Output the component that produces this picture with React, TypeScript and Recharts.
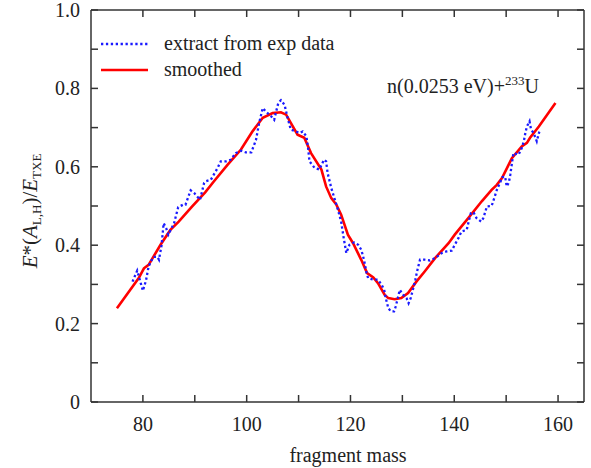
import { LineChart, Line, XAxis, YAxis } from "recharts";

// dotted curve: extracted from experimental data
const expMass = [
  78.0, 78.9, 80.0, 80.6, 81.1, 82.0, 82.8, 83.1, 83.6, 84.0, 84.5, 84.9, 86.0, 86.8, 87.7, 88.2,
  89.2, 89.9, 91.0, 91.8, 92.1, 93.1, 94.4, 95.0, 96.0, 96.9, 97.9, 98.9, 99.8, 100.9, 101.8,
  102.4, 103.1, 103.7, 104.7, 105.3, 105.6, 106.1, 106.6, 107.3, 107.9, 108.5, 109.5, 110.2,
  110.8, 111.5, 111.8, 112.1, 113.1, 114.0, 114.9, 115.3, 115.6, 116.3, 116.9, 117.6, 118.2,
  118.7, 119.2, 119.8, 120.7, 121.5, 122.1, 122.6, 123.1, 123.4, 124.4, 125.3, 126.0, 126.5,
  126.8, 127.3, 127.8, 128.4, 128.7, 129.2, 129.5, 130.2, 130.8, 131.2, 131.6, 132.1, 132.5,
  132.9, 133.4, 134.3, 135.3, 136.3, 137.6, 138.5, 139.5, 140.1, 140.8, 141.4, 142.4, 142.7,
  143.2, 143.7, 144.3, 145.2, 145.6, 146.3, 147.2, 147.8, 148.2, 148.8, 149.3, 149.8, 150.1,
  150.5, 150.8, 151.1, 151.4, 152.4, 153.0, 153.4, 153.7, 154.0, 154.5, 154.8, 155.3, 155.9,
  156.4,
];
const expValue = [
  0.307, 0.335, 0.284, 0.31, 0.346, 0.37, 0.37, 0.363, 0.4, 0.456, 0.443, 0.427, 0.456, 0.497,
  0.503, 0.503, 0.54, 0.533, 0.516, 0.559, 0.563, 0.567, 0.597, 0.614, 0.614, 0.618, 0.635,
  0.641, 0.637, 0.637, 0.669, 0.712, 0.75, 0.741, 0.729, 0.72, 0.737, 0.763, 0.77, 0.758, 0.724,
  0.695, 0.69, 0.686, 0.69, 0.678, 0.652, 0.614, 0.597, 0.593, 0.618, 0.614, 0.584, 0.546, 0.52,
  0.49, 0.46, 0.418, 0.38, 0.401, 0.407, 0.401, 0.388, 0.363, 0.329, 0.316, 0.312, 0.312, 0.299,
  0.286, 0.265, 0.239, 0.231, 0.231, 0.243, 0.269, 0.286, 0.273, 0.265, 0.252, 0.265, 0.29,
  0.312, 0.337, 0.363, 0.363, 0.361, 0.367, 0.38, 0.384, 0.386, 0.401, 0.418, 0.435, 0.439,
  0.456, 0.482, 0.484, 0.469, 0.46, 0.469, 0.499, 0.5, 0.524, 0.541, 0.559, 0.574, 0.575, 0.55,
  0.559, 0.58, 0.608, 0.635, 0.631, 0.648, 0.665, 0.686, 0.703, 0.716, 0.695, 0.686, 0.665,
  0.69,
];

// solid red curve: smoothed
const smoothMass = [
  75.0, 79.2, 80.2, 81.1, 83.4, 85.3, 86.9, 89.5, 92.0, 93.7, 96.3, 98.9, 101.1, 103.1, 105.0,
  106.6, 107.6, 108.5, 109.8, 111.1, 112.4, 114.4, 115.3, 116.3, 117.3, 118.2, 119.5, 120.5,
  122.1, 123.2, 124.4, 125.3, 126.6, 127.3, 128.5, 129.8, 131.1, 132.7, 134.3, 136.3, 138.9,
  140.1, 142.7, 145.3, 147.2, 148.2, 149.2, 151.1, 153.0, 154.0, 154.6, 156.3, 159.5,
];
const smoothValue = [
  0.239, 0.316, 0.341, 0.35, 0.401, 0.439, 0.46, 0.499, 0.535, 0.563, 0.605, 0.644, 0.69, 0.725,
  0.737, 0.739, 0.733, 0.712, 0.682, 0.674, 0.635, 0.593, 0.55, 0.52, 0.503, 0.478, 0.427, 0.405,
  0.362, 0.329, 0.318, 0.303, 0.273, 0.265, 0.262, 0.265, 0.278, 0.307, 0.333, 0.367, 0.405,
  0.427, 0.469, 0.512, 0.541, 0.554, 0.571, 0.622, 0.652, 0.661, 0.674, 0.703, 0.763,
];

const xTicks = [80, 90, 100, 110, 120, 130, 140, 150, 160];
const xLabels = ["80", "", "100", "", "120", "", "140", "", "160"];
const yTicks = [0, 0.1, 0.2, 0.3, 0.4, 0.5, 0.6, 0.7, 0.8, 0.9, 1.0];
const yLabels = ["0", "", "0.2", "", "0.4", "", "0.6", "", "0.8", "", "1.0"];

const expData = expMass.map((m, i) => ({ m, v: expValue[i] }));
const smoothData = smoothMass.map((m, i) => ({ m, v: smoothValue[i] }));

const serif = { fontFamily: "'Liberation Serif', 'DejaVu Serif', serif" };
const AXIS = "#333";
const TXT = "#222";
const TICK = 7;

function BottomTick({ x, y, payload }: any) {
  const label = xLabels[xTicks.indexOf(payload.value)];
  return (
    <g>
      <line x1={x} y1={y} x2={x} y2={y - TICK} stroke={AXIS} strokeWidth={1.5} />
      {label && (
        <text x={x} y={y + 29} textAnchor="middle" fontSize={20} style={serif} fill={TXT}>
          {label}
        </text>
      )}
    </g>
  );
}

function TopTick({ x, y }: any) {
  return <line x1={x} y1={y} x2={x} y2={y + TICK} stroke={AXIS} strokeWidth={1.5} />;
}

function LeftTick({ x, y, payload }: any) {
  const idx = yTicks.findIndex((t) => Math.abs(t - payload.value) < 1e-6);
  const label = yLabels[idx];
  return (
    <g>
      <line x1={x} y1={y} x2={x + TICK} y2={y} stroke={AXIS} strokeWidth={1.5} />
      {label && (
        <text x={x - 11} y={y + 7} textAnchor="end" fontSize={20} style={serif} fill={TXT}>
          {label}
        </text>
      )}
    </g>
  );
}

function RightTick({ x, y }: any) {
  return <line x1={x} y1={y} x2={x - TICK} y2={y} stroke={AXIS} strokeWidth={1.5} />;
}

export default function App() {
  return (
    <div style={{ position: "absolute", left: 0, top: 0, width: 591, height: 468, background: "#fff" }}>
      <LineChart width={591} height={468} margin={{ top: 5, right: 2, bottom: 36, left: 31 }}>
        <XAxis
          dataKey="m"
          type="number"
          domain={[70, 165]}
          ticks={xTicks}
          interval={0}
          height={30}
          tickSize={0}
          tickMargin={0}
          tick={<BottomTick />}
          stroke={AXIS}
          strokeWidth={1.5}
          allowDataOverflow
        />
        <XAxis
          xAxisId="top"
          orientation="top"
          dataKey="m"
          type="number"
          domain={[70, 165]}
          ticks={xTicks}
          interval={0}
          height={5}
          tickSize={0}
          tickMargin={0}
          tick={<TopTick />}
          stroke={AXIS}
          strokeWidth={1.5}
          allowDataOverflow
        />
        <YAxis
          type="number"
          domain={[0, 1]}
          ticks={yTicks}
          interval={0}
          width={60}
          tickSize={0}
          tickMargin={0}
          tick={<LeftTick />}
          stroke={AXIS}
          strokeWidth={1.5}
          allowDataOverflow
        />
        <YAxis
          yAxisId="right"
          orientation="right"
          type="number"
          domain={[0, 1]}
          ticks={yTicks}
          interval={0}
          width={5}
          tickSize={0}
          tickMargin={0}
          tick={<RightTick />}
          stroke={AXIS}
          strokeWidth={1.5}
          allowDataOverflow
        />
        <Line
          data={smoothData}
          dataKey="v"
          type="linear"
          stroke="#ff0000"
          strokeWidth={2.6}
          dot={false}
          isAnimationActive={false}
        />
        <Line
          data={expData}
          dataKey="v"
          type="linear"
          stroke="#1a1aff"
          strokeWidth={2.3}
          strokeDasharray="2.3 2.6"
          dot={false}
          isAnimationActive={false}
        />
      </LineChart>

      <svg
        width={591}
        height={468}
        style={{ position: "absolute", left: 0, top: 0, pointerEvents: "none", ...serif }}
        fill={TXT}
      >
        {/* legend */}
        <line x1={101} y1={44} x2={148} y2={44} stroke="#1a1aff" strokeWidth={2.3} strokeDasharray="2.3 2.6" />
        <text x={164} y={50} fontSize={20}>extract from exp data</text>
        <line x1={101} y1={70} x2={148} y2={70} stroke="#ff0000" strokeWidth={2.6} />
        <text x={164} y={76} fontSize={20}>smoothed</text>

        {/* reaction */}
        <text x={387} y={93} fontSize={20}>
          n(0.0253 eV)+
          <tspan fontSize={13} dy={-8}>233</tspan>
          <tspan dy={8}>U</tspan>
        </text>

        {/* axis titles */}
        <text x={348} y={462} fontSize={20} textAnchor="middle">fragment mass</text>
        <text transform="translate(37, 211) rotate(-90)" fontSize={21} textAnchor="middle">
          <tspan fontStyle="italic">E</tspan>
          <tspan>*(</tspan>
          <tspan fontStyle="italic">A</tspan>
          <tspan fontSize={13} dy={4}>L,H</tspan>
          <tspan dy={-4}>)/</tspan>
          <tspan fontStyle="italic">E</tspan>
          <tspan fontSize={13} dy={4}>TXE</tspan>
        </text>
      </svg>
    </div>
  );
}
